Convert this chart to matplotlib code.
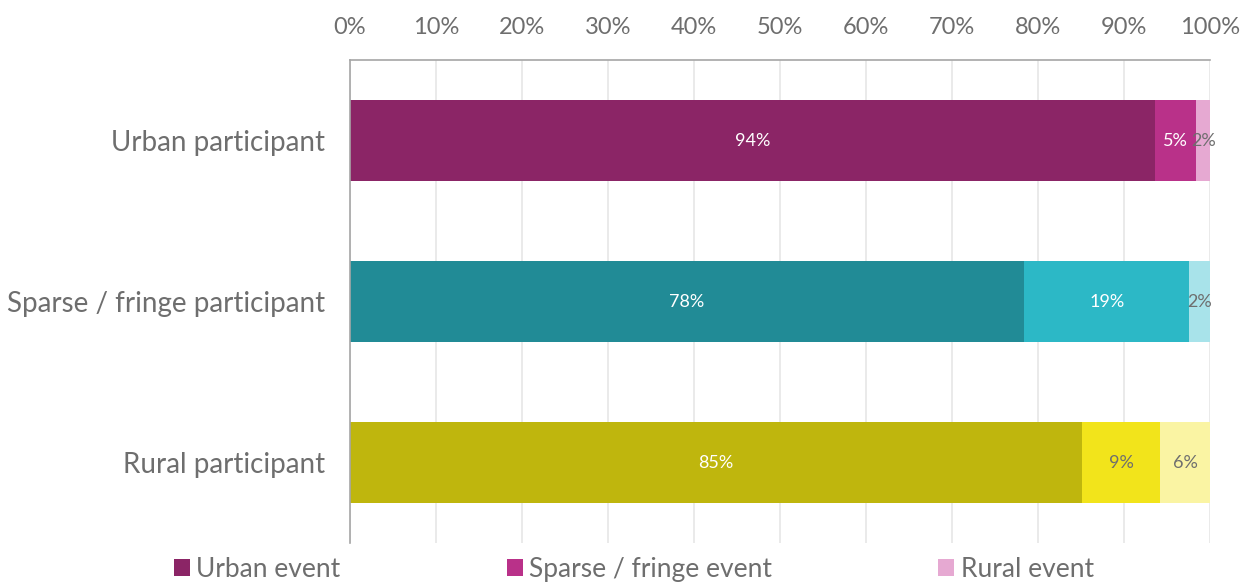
import numpy as np
import matplotlib
matplotlib.use("Agg")
import matplotlib.pyplot as plt
from matplotlib.patches import Patch

plt.rcParams['font.family'] = ['Lato', 'DejaVu Sans']

# Share of events attended, by participant location (%)
participants = ["Urban participant", "Sparse / fringe participant", "Rural participant"]
event_types = ["Urban event", "Sparse / fringe event", "Rural event"]
urban_event = [93.6, 78.4, 85.1]
sparse_event = [4.8, 19.2, 9.1]
rural_event = [1.6, 2.4, 5.8]
x_ticks = [0, 10, 20, 30, 40, 50, 60, 70, 80, 90, 100]

# one palette per participant row: dark, mid, light
row_colors = [
    ["#8B2566", "#B93189", "#E6A9D2"],
    ["#218B96", "#2CB8C6", "#A8E3EA"],
    ["#BFB60D", "#F2E41B", "#FAF4A3"],
]
label_colors = [
    ["white", "white", "#6E6E6E"],
    ["white", "white", "#6E6E6E"],
    ["white", "#6E6E6E", "#6E6E6E"],
]

TEXT = "#6E6E6E"

fig = plt.figure(figsize=(12.48, 5.85), dpi=100)
ax = fig.add_axes([350 / 1248, 1 - 543 / 585, 860 / 1248, 483 / 585])

series = [urban_event, sparse_event, rural_event]
y = np.arange(len(participants))
left = np.zeros(len(participants))
for j, vals in enumerate(series):
    vals = np.array(vals)
    for i in range(len(participants)):
        ax.barh(y[i], vals[i], left=left[i], height=0.503,
                color=row_colors[i][j], zorder=2)
        ax.text(left[i] + vals[i] / 2, y[i], f"{vals[i]:.0f}%",
                ha="center", va="center", fontsize=13,
                color=label_colors[i][j], zorder=3)
    left += vals

ax.set_xlim(0, 100)
ax.set_ylim(len(participants) - 0.5, -0.5)
ax.set_yticks(y)
ax.set_yticklabels(participants, fontsize=20, color=TEXT)
ax.set_xticks(x_ticks)
ax.set_xticklabels([f"{t}%" for t in x_ticks], fontsize=17, color=TEXT)
ax.xaxis.tick_top()
ax.tick_params(axis="both", length=0)
ax.tick_params(axis="y", pad=18)
ax.tick_params(axis="x", pad=16)

ax.grid(axis="x", color="#E6E6E6", linewidth=1.2, zorder=0)
ax.set_axisbelow(True)
for side in ("right", "bottom"):
    ax.spines[side].set_visible(False)
for side in ("left", "top"):
    ax.spines[side].set_color("#A6A6A6")
    ax.spines[side].set_linewidth(1.2)

handles = [Patch(facecolor=c) for c in row_colors[0]]
fig.legend(handles, event_types, loc="lower left", bbox_to_anchor=(150 / 1248, -0.035),
           ncol=3, frameon=False, fontsize=19, handlelength=0.6, handleheight=0.6,
           handletextpad=0.25, columnspacing=6.3, labelcolor=TEXT)

fig.savefig("out.png", dpi=100)
